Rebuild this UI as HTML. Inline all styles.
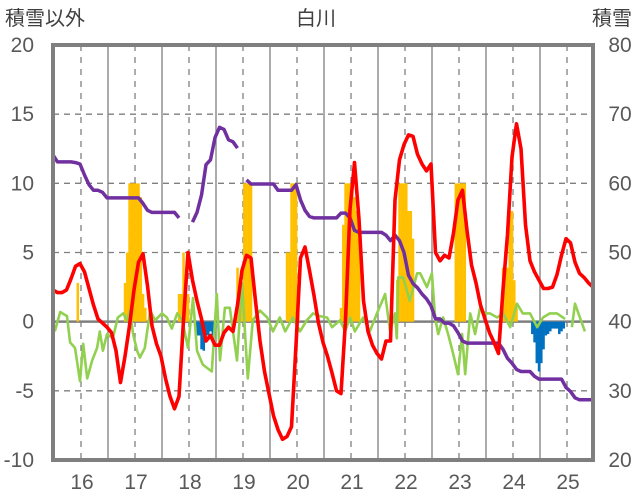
<!DOCTYPE html>
<html><head><meta charset="utf-8">
<style>
body{margin:0;background:#fff;}
svg{display:block;font-family:"Liberation Sans","Noto Sans CJK JP",sans-serif;}
</style></head>
<body>
<svg id="chart" width="636" height="501" viewBox="0 0 636 501">
<g id="grid"></g>
<g id="bars"></g>
<g id="lines"></g>
<g id="frame"></g>
<g id="labels"></g>
<text x="316" y="25" font-size="20" fill="#404040" text-anchor="middle">白川</text>
<text x="5" y="25" font-size="20" fill="#404040">積雪以外</text>
<text x="632" y="25" font-size="20" fill="#404040" text-anchor="end">積雪</text>
</svg>
<script>
const leftTicks=[20,15,10,5,0,-5,-10];
const rightTicks=[80,70,60,50,40,30,20];
const yearLabels=["16","17","18","19","20","21","22","23","24","25"];
// red: monthly values (left axis), month 0 = mid-2015
const redVals=[2.3,2.1,2.1,2.3,3.1,4.0,4.2,3.6,2.4,1.2,0.2,-0.1,-0.4,-0.8,-2.1,-4.4,-2.5,-0.3,2.3,4.3,4.9,2.6,-0.3,-1.6,-2.5,-4.1,-5.4,-6.3,-5.4,0.1,5.0,3.0,1.5,0.2,-1.4,-1.0,-1.7,-1.7,-0.8,-0.4,-0.7,1.2,3.7,4.8,4.6,1.5,-1.4,-3.6,-5.2,-6.8,-7.8,-8.5,-8.3,-7.6,-1.7,4.6,5.4,3.7,1.9,-0.1,-1.5,-2.5,-3.7,-5.0,-5.2,0.1,8.1,11.5,7.4,1.5,-0.7,-1.7,-2.3,-2.7,-1.4,-1.4,8.8,11.7,12.8,13.5,13.4,12.1,11.4,10.9,11.4,5.0,4.4,4.8,4.6,6.4,8.8,9.5,6.6,4.1,2.8,1.2,0.2,-0.8,-1.5,-2.3,2.3,6.3,11.9,14.3,12.5,7.0,4.4,3.6,3.0,2.4,2.4,2.5,3.4,4.8,6.0,5.7,4.3,3.5,3.2,2.8,2.5];
// purple: monthly values (right axis), null = gap
const purpleVals=[64.1,63.1,63.1,63.1,63.1,63.0,62.8,61.2,59.8,59.0,59.0,58.7,57.9,57.9,57.9,57.9,57.9,57.9,57.9,57.9,57.1,56.1,55.8,55.8,55.8,55.8,55.8,55.8,55.0,null,null,54.4,55.8,58.3,62.7,63.4,66.6,68.1,67.8,66.3,66.0,65.1,null,60.5,59.9,59.9,59.9,59.9,59.9,59.9,59.0,59.0,59.0,59.0,59.8,57.6,56.1,55.2,55.0,55.0,55.0,55.0,55.0,55.0,55.7,55.7,55.0,53.2,52.9,52.9,52.9,52.9,52.9,52.9,52.5,51.7,52.5,51.7,50.0,46.7,45.5,44.9,44.0,43.3,42.3,40.4,40.4,39.8,39.8,39.4,38.4,37.2,36.9,36.9,36.9,36.9,36.9,36.9,36.9,36.9,36.0,34.7,34.0,33.1,32.8,32.8,32.8,32.1,31.7,31.7,31.7,31.7,31.7,31.7,30.5,29.9,29.0,28.7,28.7,28.7,28.7];
// green: month positions and values (left axis); null splits segments
const greenMonths=[0.4,1.6,3.1,3.8,4.9,6.0,6.7,7.6,8.7,9.8,10.4,11.1,12.0,13.3,14.4,15.6,16.4,17.1,17.8,18.7,19.3,20.4,21.6,22.7,24.2,25.3,26.4,27.6,28.7,30.0,31.1,32.0,33.3,35.3,36.4,37.1,38.2,39.3,40.9,42.0,43.3,44.4,46.0,47.6,48.9,50.4,51.6,53.3,54.9,56.4,57.8,59.3,60.9,62.0,63.8,64.9,66.0,67.1,68.9,70.4,72.0,73.8,74.9,76.0,76.4,76.7,77.8,79.3,80.9,81.6,83.1,84.2,84.9,85.6,86.7,87.8,88.9,90.0,90.9,91.6,92.7,93.8,94.9,96.0,97.1,98.7,100.0,101.6,103.1,104.4,106.0,107.6,108.9,110.4,112.0,113.8,null,115.3,116.0,117.1,118.2];
const greenVals=[-0.7,0.7,0.4,-1.5,-1.9,-4.3,-1.6,-4.1,-2.8,-1.9,-0.7,-2.1,-0.9,-1.2,0.3,0.6,0.1,0.8,-0.9,-2.1,-2.6,-1.9,0.8,0.1,0.6,0.3,-0.5,0.6,0.1,-1.9,1.7,-2.1,-3.1,-3.6,2.0,-2.8,1.0,1.0,-2.8,2.8,-4.1,0.1,0.8,0.3,-0.7,0.3,-0.7,0.3,-0.7,0.1,0.6,0.4,0.3,-0.4,0.1,-0.7,0.3,-0.7,0.3,-0.7,0.6,2.0,-0.7,0.6,-1.2,3.2,3.2,1.5,3.5,3.5,2.5,3.5,0.3,-0.9,0.3,-0.9,-2.3,-3.8,-0.9,-3.8,0.6,-0.9,1.0,0.6,0.6,0.3,0.6,-0.4,1.3,0.6,0.6,-0.4,0.3,0.6,0.6,0.2,null,-0.4,1.3,0.3,-0.7];
// bars: half-month index and value (left axis)
const orangeIdx=[11,32,33,34,35,36,37,38,39,40,41,56,57,58,59,60,82,83,84,85,86,87,88,104,105,106,107,108,109,128,129,130,131,132,133,134,135,136,153,154,155,156,157,158,159,160,179,180,181,182,183,200,201,202,203,204,205,206];
const orangeVals=[2.8,2.8,5.0,10,10,10,10,10,9.0,2.0,1.0,2.0,2.0,5.0,2.0,2.0,3.9,2.0,2.0,10,10,10,10,5.0,5.0,10,10,10,1.0,1.0,7.0,10,10,10,10,9.0,8.0,6.0,3.0,10,10,10,10,8.0,8.0,6.0,10,10,10,10,10,3.9,3.9,3.9,8.0,8.0,3.0,1.0];
const blueIdx=[64,65,66,67,68,69,70,71,72,213,214,215,216,217,218,219,220,221,222,223,224,225,226,227];
const blueVals=[-1.0,-1.0,-2.0,-2.1,-1.0,-1.0,-0.7,-1.0,-0.5,-0.9,-1.5,-3.0,-3.6,-3.0,-2.0,-1.0,-0.9,-0.7,-0.5,-0.5,-0.5,-0.9,-0.7,-0.5];

const NS="http://www.w3.org/2000/svg";
const X0=53,X1=593,Y0=45,Y1=460;
const yL=v=>Y0+(20-v)*(Y1-Y0)/30;
const yR=v=>Y0+(80-v)*(Y1-Y0)/60;
const xM=m=>X0+m*4.5;
const xH=k=>X0+k*2.25;
function mk(tag,attrs,parent){const e=document.createElementNS(NS,tag);for(const k in attrs)e.setAttribute(k,attrs[k]);parent.appendChild(e);return e;}
const grid=document.getElementById('grid'),bars=document.getElementById('bars'),lines=document.getElementById('lines'),frame=document.getElementById('frame'),labels=document.getElementById('labels');

leftTicks.forEach((t,i)=>{
  const y=yL(t);
  if(t!==20&&t!==-10&&t!==0){const l=mk('line',{x1:X0,x2:X1,y1:y,y2:y,stroke:'#7f7f7f','stroke-width':1.3,'stroke-dasharray':'6,5'},grid);
  
  }
  const tx=mk('text',{x:34,y:y+7,'font-size':21,fill:'#595959','text-anchor':'end'},labels);tx.textContent=t;
  
  
});
rightTicks.forEach(t=>{
  const tx=mk('text',{x:620,y:yR(t)+7,'font-size':21,fill:'#595959','text-anchor':'middle'},labels);tx.textContent=t;
  
  
});
yearLabels.forEach((lab,i)=>{
  const xc=81+i*54.0;
  const d=mk('line',{x1:xc,x2:xc,y1:Y0,y2:Y1,stroke:'#7f7f7f','stroke-width':1.3,'stroke-dasharray':'6,6'},grid);
  
  
  if(i<yearLabels.length-1){const s=mk('line',{x1:xc+27,x2:xc+27,y1:Y0,y2:Y1,stroke:'#7f7f7f','stroke-width':1.3},grid);
  
  }
  const tx=mk('text',{x:xc+1,y:489,'font-size':21,fill:'#595959','text-anchor':'middle'},labels);tx.textContent=lab;
  
  
});
const z=mk('line',{x1:X0,x2:X1,y1:yL(0),y2:yL(0),stroke:'#7f7f7f','stroke-width':2.5},grid);



orangeIdx.forEach((k,i)=>{const v=orangeVals[i];
  const r=mk('rect',{x:xH(k)-1.2,y:yL(v),width:2.5,height:yL(0)-yL(v),fill:'#FFC000'},bars);
  
  });
blueIdx.forEach((k,i)=>{const v=blueVals[i];
  const r=mk('rect',{x:xH(k)-1.2,y:yL(0),width:2.5,height:yL(v)-yL(0),fill:'#0070C0'},bars);
  
  });

function pathFrom(xs,ys){let d='',pen=false;for(let i=0;i<xs.length;i++){if(xs[i]===null||ys[i]===null){pen=false;continue;}d+=(pen?'L':'M')+xs[i].toFixed(1)+','+ys[i].toFixed(1);pen=true;}return d;}
const gp=mk('path',{d:pathFrom(greenMonths.map(m=>m===null?null:xM(m)),greenVals.map(v=>v===null?null:yL(v))),fill:'none',stroke:'#92D050','stroke-width':2.6,'stroke-linejoin':'round'},lines);


const pp=mk('path',{d:pathFrom(purpleVals.map((v,i)=>xM(i)),purpleVals.map(v=>v===null?null:yR(v))),fill:'none',stroke:'#7030A0','stroke-width':3.5,'stroke-linejoin':'round'},lines);


const rp=mk('path',{d:pathFrom(redVals.map((v,i)=>xM(i)),redVals.map(v=>yL(v))),fill:'none',stroke:'#FF0000','stroke-width':3.6,'stroke-linejoin':'round'},lines);



const fr=mk('rect',{x:X0,y:Y0,width:X1-X0,height:Y1-Y0,fill:'none',stroke:'#7f7f7f','stroke-width':4},frame);


</script>
</body></html>
